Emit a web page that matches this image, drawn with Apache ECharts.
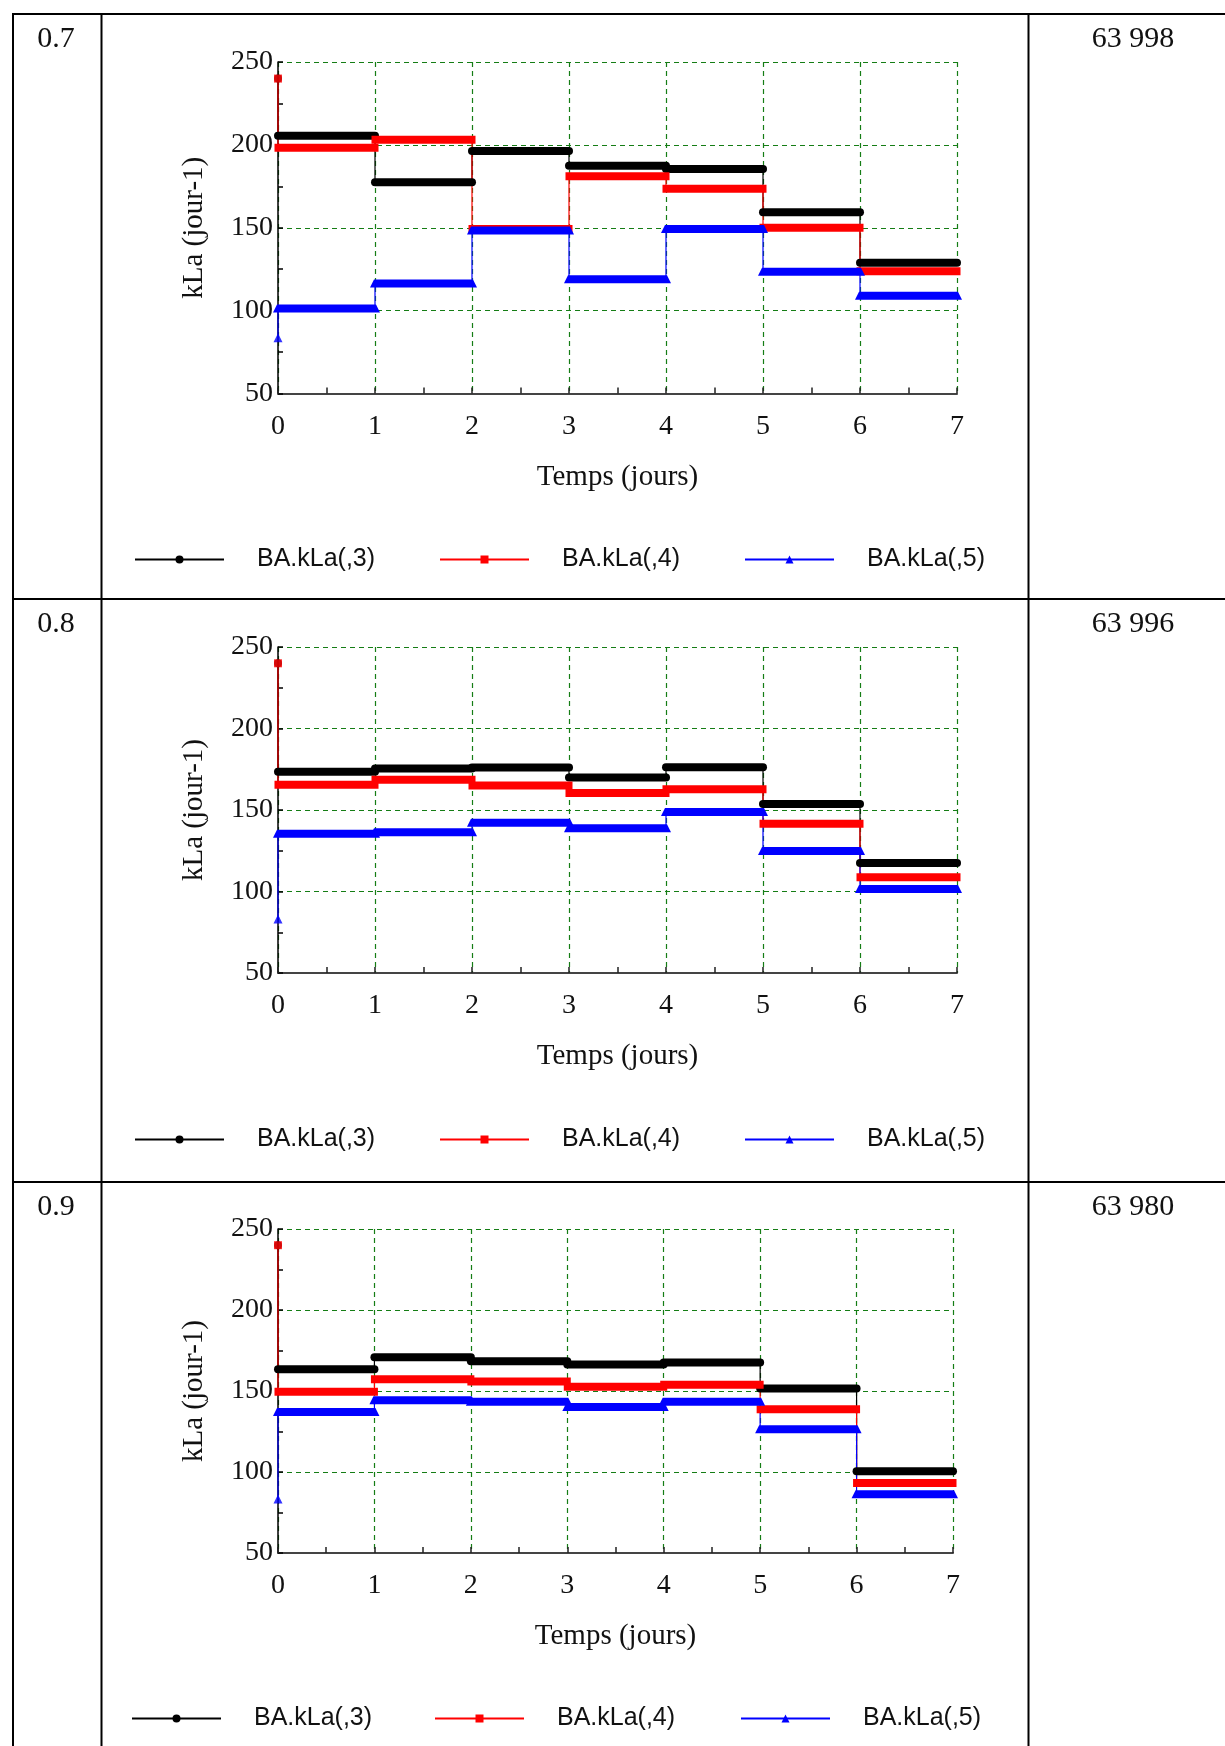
<!DOCTYPE html>
<html><head><meta charset="utf-8">
<script src="https://cdn.jsdelivr.net/npm/echarts@6/dist/echarts.min.js"></script>
<style>html,body{margin:0;padding:0;background:#fff}#c{width:1225px;height:1746px}</style>
</head><body><div id="c"></div>
<script>
// ---------- data ----------
const days = [0, 1, 2, 3, 4, 5, 6];
const seriesNames = ['BA.kLa(,3)', 'BA.kLa(,4)', 'BA.kLa(,5)'];
const rowLabels = ['0.7', '0.8', '0.9'];
const rowValues = ['63 998', '63 996', '63 980'];
const xAxisName = 'Temps (jours)';
const yAxisName = 'kLa (jour-1)';

// initial values at t = 0 for kLa(,3), kLa(,4), kLa(,5)
const init07 = [240, 240, 83.6];
const k3_07 = [205.5, 177.4, 196.3, 187.4, 185.4, 159.3, 128.9];
const k4_07 = [198.3, 203.1, 149.3, 181.0, 173.5, 150.0, 123.8];
const k5_07 = [101.3, 116.4, 148.4, 119.0, 149.2, 123.4, 109.0];

const init08 = [240, 240, 83.1];
const k3_08 = [173.5, 175.4, 176.0, 170.0, 176.2, 153.7, 117.5];
const k4_08 = [165.5, 168.6, 165.0, 160.4, 162.7, 141.6, 108.7];
const k5_08 = [135.5, 136.3, 142.2, 138.8, 148.8, 124.8, 101.5];

const init09 = [240, 240, 83.4];
const k3_09 = [163.5, 170.9, 168.4, 166.4, 167.6, 151.6, 100.5];
const k4_09 = [149.5, 157.3, 155.9, 152.6, 153.9, 138.8, 93.2];
const k5_09 = [137.1, 144.3, 143.3, 140.2, 143.3, 126.4, 86.3];

const plots = [
  { init: init07, vals: [k3_07, k4_07, k5_07] },
  { init: init08, vals: [k3_08, k4_08, k5_08] },
  { init: init09, vals: [k3_09, k4_09, k5_09] }
];

// ---------- style / layout ----------
const SERIF = 'Liberation Serif, Times New Roman, serif';
const SANS = 'Liberation Sans, Arial, sans-serif';
const colors = ['#000000', '#ff0000', '#0000ff'];
const symbols = ['circle', 'rect', 'triangle'];
const grids = [
  { left: 278, top: 62, width: 679, height: 331.5 },
  { left: 278, top: 647, width: 679, height: 326 },
  { left: 278, top: 1229, width: 675, height: 324 }
];
const legendTops = [557, 1137, 1716];
const legendLefts = [[134, 439, 744], [134, 439, 744], [131, 434, 740]];
const rowTextY = [39, 624, 1207];

function stepPoints(init, vals) {
  const pts = [[days[0], init]];
  vals.forEach((v, i) => { pts.push([days[i], v]); pts.push([days[i] + 1, v]); });
  return pts;
}
function barData(vals) {
  return vals.map((v, i) => [days[i], days[i] + 1, v]);
}
function barRender(kind) {
  return function (params, api) {
    const s = api.coord([api.value(0), api.value(2)]);
    const e = api.coord([api.value(1), api.value(2)]);
    const h = 8;
    if (kind === 0) {
      return { type: 'line', shape: { x1: s[0], y1: s[1], x2: e[0], y2: e[1] },
        style: { stroke: '#000', lineWidth: h, lineCap: 'round' } };
    }
    if (kind === 1) {
      return { type: 'rect', shape: { x: s[0] - 3.5, y: s[1] - h / 2, width: e[0] - s[0] + 7, height: h },
        style: { fill: '#ff0000' } };
    }
    return { type: 'polygon', shape: { points: [[s[0] - 1, s[1] - h / 2], [e[0] + 1, s[1] - h / 2], [e[0] + 5, s[1] + h / 2], [s[0] - 5, s[1] + h / 2]] },
      style: { fill: '#0000ff' } };
  };
}

const gridLine = { show: true, lineStyle: { color: '#157d15', type: [5, 4], width: 1.2 } };
const xAxes = [], yAxes = [], series = [], legends = [];
grids.forEach((g, p) => {
  xAxes.push({
    gridIndex: p, type: 'value', min: 0, max: 7, interval: 1,
    name: xAxisName, nameLocation: 'middle', nameGap: 69,
    nameTextStyle: { fontFamily: SERIF, fontSize: 29, color: '#111' },
    axisLine: { lineStyle: { color: '#444', width: 2 } },
    axisTick: { inside: true, length: 6, lineStyle: { color: '#222', width: 1.5 } },
    minorTick: { show: true, splitNumber: 2, length: 6, lineStyle: { color: '#222', width: 1.5 } },
    axisLabel: { fontFamily: SERIF, fontSize: 28, color: '#111', margin: 19 },
    splitLine: gridLine
  });
  yAxes.push({
    gridIndex: p, type: 'value', min: 50, max: 250, interval: 50,
    name: yAxisName, nameLocation: 'middle', nameGap: 69,
    nameTextStyle: { fontFamily: SERIF, fontSize: 29, color: '#111' },
    axisLine: { show: true, lineStyle: { color: '#000', width: 1.5 } },
    axisTick: { show: true, inside: true, length: 5, lineStyle: { color: '#000', width: 1.5 } },
    minorTick: { show: true, splitNumber: 2, length: 5, lineStyle: { color: '#000', width: 1.5 } },
    axisLabel: { fontFamily: SERIF, fontSize: 28, color: '#111', margin: 5 },
    splitLine: gridLine
  });
  const pl = plots[p];
  // thin step lines
  pl.vals.forEach((vals, k) => {
    series.push({
      name: seriesNames[k], type: 'line', xAxisIndex: p, yAxisIndex: p,
      data: stepPoints(pl.init[k], vals), symbol: symbols[k], showSymbol: false,
      lineStyle: { width: 1.2, color: colors[k] }, itemStyle: { color: colors[k] },
      z: 2, animation: false, silent: true
    });
  });
  // thick day segments
  pl.vals.forEach((vals, k) => {
    series.push({
      name: seriesNames[k], type: 'custom', xAxisIndex: p, yAxisIndex: p,
      data: barData(vals), renderItem: barRender(k), itemStyle: { color: colors[k] },
      z: 3, animation: false, silent: true, clip: false
    });
  });
  // initial points
  pl.vals.forEach((vals, k) => {
    series.push({
      name: seriesNames[k], type: 'scatter', xAxisIndex: p, yAxisIndex: p,
      data: [[days[0], pl.init[k]]], symbol: symbols[k], symbolSize: k === 2 ? 9 : 8,
      itemStyle: { color: colors[k] }, z: 4, animation: false, silent: true
    });
  });
  seriesNames.forEach((n, k) => {
    legends.push({
      data: [n], left: legendLefts[p][k], top: legendTops[p] - 10, padding: 0,
      itemWidth: 89, itemHeight: 10, selectedMode: false,
      lineStyle: { width: 2 },
      textStyle: { fontFamily: SANS, fontSize: 25, color: '#111', padding: [0, 0, 0, 28] }
    });
  });
});

// table lines and cell texts
const graphics = [];
const L = (x1, y1, x2, y2) => ({ type: 'line', shape: { x1, y1, x2, y2 }, style: { stroke: '#000', lineWidth: 2 }, z: 10 });
graphics.push(L(12, 14, 1225, 14));
graphics.push(L(13, 14, 13, 1746));
graphics.push(L(101.5, 14, 101.5, 1746));
graphics.push(L(1028.5, 14, 1028.5, 1746));
graphics.push(L(12, 599, 1225, 599));
graphics.push(L(12, 1182, 1225, 1182));
rowLabels.forEach((t, i) => {
  graphics.push({ type: 'text', x: 56, y: rowTextY[i], style: { text: t, font: '30px ' + SERIF, fill: '#111', textAlign: 'center', textVerticalAlign: 'middle' }, z: 10 });
  graphics.push({ type: 'text', x: 1133, y: rowTextY[i], style: { text: rowValues[i], font: '30px ' + SERIF, fill: '#111', textAlign: 'center', textVerticalAlign: 'middle' }, z: 10 });
});

const chart = echarts.init(document.getElementById('c'), null, { renderer: 'canvas' });
chart.setOption({
  animation: false,
  backgroundColor: '#fff',
  grid: grids.map(g => Object.assign({ containLabel: false }, g)),
  xAxis: xAxes, yAxis: yAxes, series: series, legend: legends,
  graphic: graphics
});
</script></body></html>
